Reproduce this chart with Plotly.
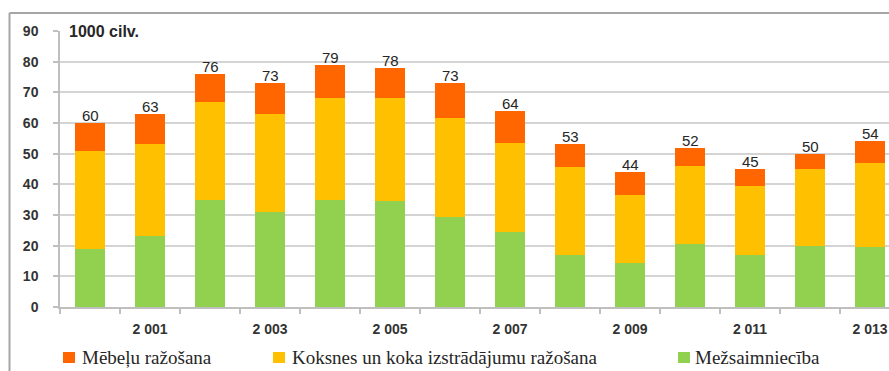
import plotly.graph_objects as go

# Employment in the forest sector, thousand people
years = list(range(2000, 2014))
furniture = [9, 10, 9, 10, 11, 10, 11.5, 10.5, 7.5, 7.5, 6, 5.5, 5, 7]
wood_products = [32, 30, 32, 32, 33, 33.5, 32, 29, 28.5, 22, 25.5, 22.5, 25, 27.5]
forestry = [19, 23, 35, 31, 35, 34.5, 29.5, 24.5, 17, 14.5, 20.5, 17, 20, 19.5]

series_names = ["Mēbeļu ražošana", "Koksnes un koka izstrādājumu ražošana", "Mežsaimniecība"]
series_colors = ["#FF6600", "#FFC000", "#92D050"]

label_years = [2001, 2003, 2005, 2007, 2009, 2011, 2013]
label_text = ["2 001", "2 003", "2 005", "2 007", "2 009", "2 011", "2 013"]

totals = [f + w + g for f, w, g in zip(furniture, wood_products, forestry)]

W, H = 889, 371
ML, MR, MT, MB = 60, 0, 31, 64
PW = W - ML - MR
PH = H - MT - MB

SANS = "Liberation Sans, Arial, sans-serif"
SERIF = "Liberation Serif, DejaVu Serif, serif"


def px_x(px):
    return (px - ML) / PW


def px_y(py):
    return (H - MB - py) / PH


fig = go.Figure()
# stacked from the bottom: forestry, wood products, furniture
for vals, name, color in [
    (forestry, series_names[2], series_colors[2]),
    (wood_products, series_names[1], series_colors[1]),
    (furniture, series_names[0], series_colors[0]),
]:
    fig.add_trace(go.Bar(x=years, y=vals, name=name, marker_color=color,
                         marker_line_width=0, width=0.5, showlegend=False))

# totals above each column
for yr, tot in zip(years, totals):
    fig.add_annotation(x=yr, y=tot, text=str(round(tot)), showarrow=False,
                       xref="x", yref="y", yanchor="bottom", yshift=-3,
                       font=dict(family=SANS, size=15, color="#262626"))

# unit caption
fig.add_annotation(x=px_x(66), y=1.0, xref="paper", yref="paper", text="<b>1000 cilv.</b>",
                   showarrow=False, xanchor="left", yanchor="middle", bgcolor="white",
                   borderpad=2,
                   font=dict(family=SANS, size=16, color="#262626"))

# legend row
legend_items = [(63, 80), (273, 290), (678, 693)]
for (mx, tx), name, color in zip(legend_items, series_names, series_colors):
    fig.add_shape(type="rect", xref="paper", yref="paper",
                  x0=px_x(mx), x1=px_x(mx + 12), y0=px_y(363), y1=px_y(352),
                  fillcolor=color, line_width=0)
    fig.add_annotation(x=px_x(tx), y=px_y(357), xref="paper", yref="paper", text=name,
                       showarrow=False, xanchor="left", yanchor="middle",
                       font=dict(family=SERIF, size=19, color="#262626"))

# outer frame (left and top edges)
fig.add_shape(type="line", xref="paper", yref="paper", x0=px_x(9.5), x1=px_x(9.5),
              y0=px_y(13), y1=px_y(380), line=dict(color="#a6a6a6", width=2))
fig.add_shape(type="line", xref="paper", yref="paper", x0=px_x(9.5), x1=px_x(900),
              y0=px_y(13), y1=px_y(13), line=dict(color="#a6a6a6", width=2))

fig.update_layout(
    width=W, height=H,
    margin=dict(l=ML, r=MR, t=MT, b=MB),
    barmode="stack", bargap=0.5,
    plot_bgcolor="white", paper_bgcolor="white",
    showlegend=False,
    font=dict(family=SANS, color="#404040"),
)
fig.update_xaxes(
    range=[1999.5, 1999.5 + PW / 60.0],
    tickvals=label_years, ticktext=["<b>" + t + "</b>" for t in label_text], ticks="",
    tickfont=dict(size=14, color="#333333", family=SANS),
    ticklabelstandoff=8,
    showline=True, linecolor="#bfbfbf", linewidth=1.5,
    showgrid=False, zeroline=False,
    minor=dict(tickvals=[y - 0.5 for y in years] + [years[-1] + 0.5],
               ticks="outside", ticklen=5, tickcolor="#bfbfbf", tickwidth=1.5,
               showgrid=False),
)
fig.update_yaxes(
    range=[0, 90], dtick=10,
    tickfont=dict(size=14, color="#333333", family=SANS),
    tickprefix="<b>", ticksuffix="</b>",
    ticks="outside", ticklen=5, tickcolor="#bfbfbf", tickwidth=1.5,
    ticklabelstandoff=12,
    showline=True, linecolor="#bfbfbf", linewidth=1.5,
    showgrid=True, gridcolor="#d4d4d4", gridwidth=1.5,
    zeroline=False,
)

fig.write_html("out.html")
